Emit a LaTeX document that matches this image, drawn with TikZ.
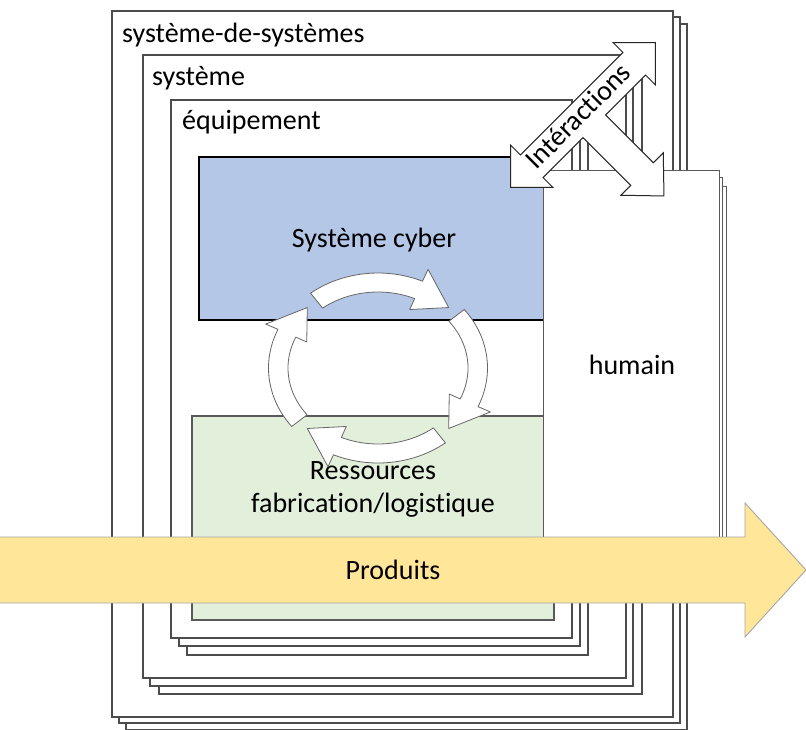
\documentclass[tikz,border=0pt]{standalone}
\usepackage{fontspec}
\setmainfont{Carlito}[Ligatures=NoCommon]
\definecolor{cCyber}{HTML}{B4C7E7}
\definecolor{cRess}{HTML}{E2EFDA}
\definecolor{cProd}{HTML}{FFE699}
\tikzset{
  page/.style={draw=black!70,line width=1.2pt,fill=white},
  cyberbox/.style={draw=black,line width=2.6pt,fill=cCyber},
  ressbox/.style={draw=black!65,line width=1.1pt,fill=cRess},
  humbox/.style={draw=black!65,line width=1pt,fill=white},
  cyc/.style={draw=black!60,line width=.8pt,fill=white,line join=round},
  interarr/.style={draw=black!85,line width=1pt,fill=white},
  prodarr/.style={draw=black!35,line width=.9pt,fill=cProd},
  lbl/.style={font=\fontsize{28}{33}\selectfont,inner sep=0pt},
}
\begin{document}
\begin{tikzpicture}[x=1pt,y=-1pt]
  \useasboundingbox (0,0) rectangle (806,729);
  % nested stacks of pages
  \foreach \dx/\dy in {14/13,7/6,0/0}{\draw[page] (112+\dx,11+\dy) rectangle (673+\dx,717+\dy);}
  \foreach \dx/\dy in {16/16,7/8,0/0}{\draw[page] (143+\dx,55+\dy) rectangle (626+\dx,678+\dy);}
  \foreach \dx/\dy in {16/17,8/8,0/0}{\draw[page] (171+\dx,100+\dy) rectangle (572+\dx,638+\dy);}
  \node[lbl,anchor=base west] (sos) at (122,42) {système-de-systèmes};
  \node[lbl,anchor=base west] (sys) at (152,85) {système};
  \node[lbl,anchor=base west] (equip) at (182,129) {équipement};
  % cyber and resources
  \draw[cyberbox] (199,157) rectangle (550,320);
  \draw[ressbox] (192,416) rectangle (554,620);
  \node[lbl] (cyber) at (374,240) {Système cyber};
  \node[lbl,align=center] (ress) at (373,489) {Ressources\\fabrication/logistique};
  % humain
  \foreach \dx/\dy in {7/16,3/7,0/0}{\draw[humbox] (543+\dx,170+\dy) rectangle (719+\dx,575);}
  \node[lbl] (hum) at (632,365) {humain};
  % cycle of four arrows
  \foreach \a in {52,142,232,322}{
    \pgfmathsetmacro\hbase{\a+62}
    \pgfmathsetmacro\htip{\a+83}
    \filldraw[cyc] plot[domain=\a:\hbase,samples=24] ({378+109.5*cos(\x)},{368+95*sin(\x)})
      -- ({378+123*cos(\hbase)},{368+108*sin(\hbase)})
      -- ({378+100*cos(\htip)},{368+85.5*sin(\htip)})
      -- ({378+78*cos(\hbase)},{368+64*sin(\hbase)})
      -- plot[domain=\hbase:\a,samples=24] ({378+90*cos(\x)},{368+76*sin(\x)}) -- cycle;
  }
  % interactions
  \begin{scope}[shift={(583,115)},rotate=45]
    \filldraw[interarr] (-102.5,0) -- (-72.5,-30) -- (-72.5,-16) -- (72.5,-16) -- (72.5,-30) -- (102.5,0)
      -- (72.5,30) -- (72.5,16) -- (16,16) -- (16,83.5) -- (30,83.5) -- (0,114.5) -- (-30,83.5)
      -- (-16,83.5) -- (-16,16) -- (-72.5,16) -- (-72.5,30) -- cycle;
    \node[lbl,rotate=45] (inter) at (-4,-3) {Intéractions};
  \end{scope}
  % produits
  \filldraw[prodarr] (-1,537) -- (745,537) -- (745,503) -- (806,570) -- (745,637) -- (745,603) -- (-1,603) -- cycle;
  \node[lbl] (prod) at (393,570) {Produits};
\end{tikzpicture}
\end{document}
